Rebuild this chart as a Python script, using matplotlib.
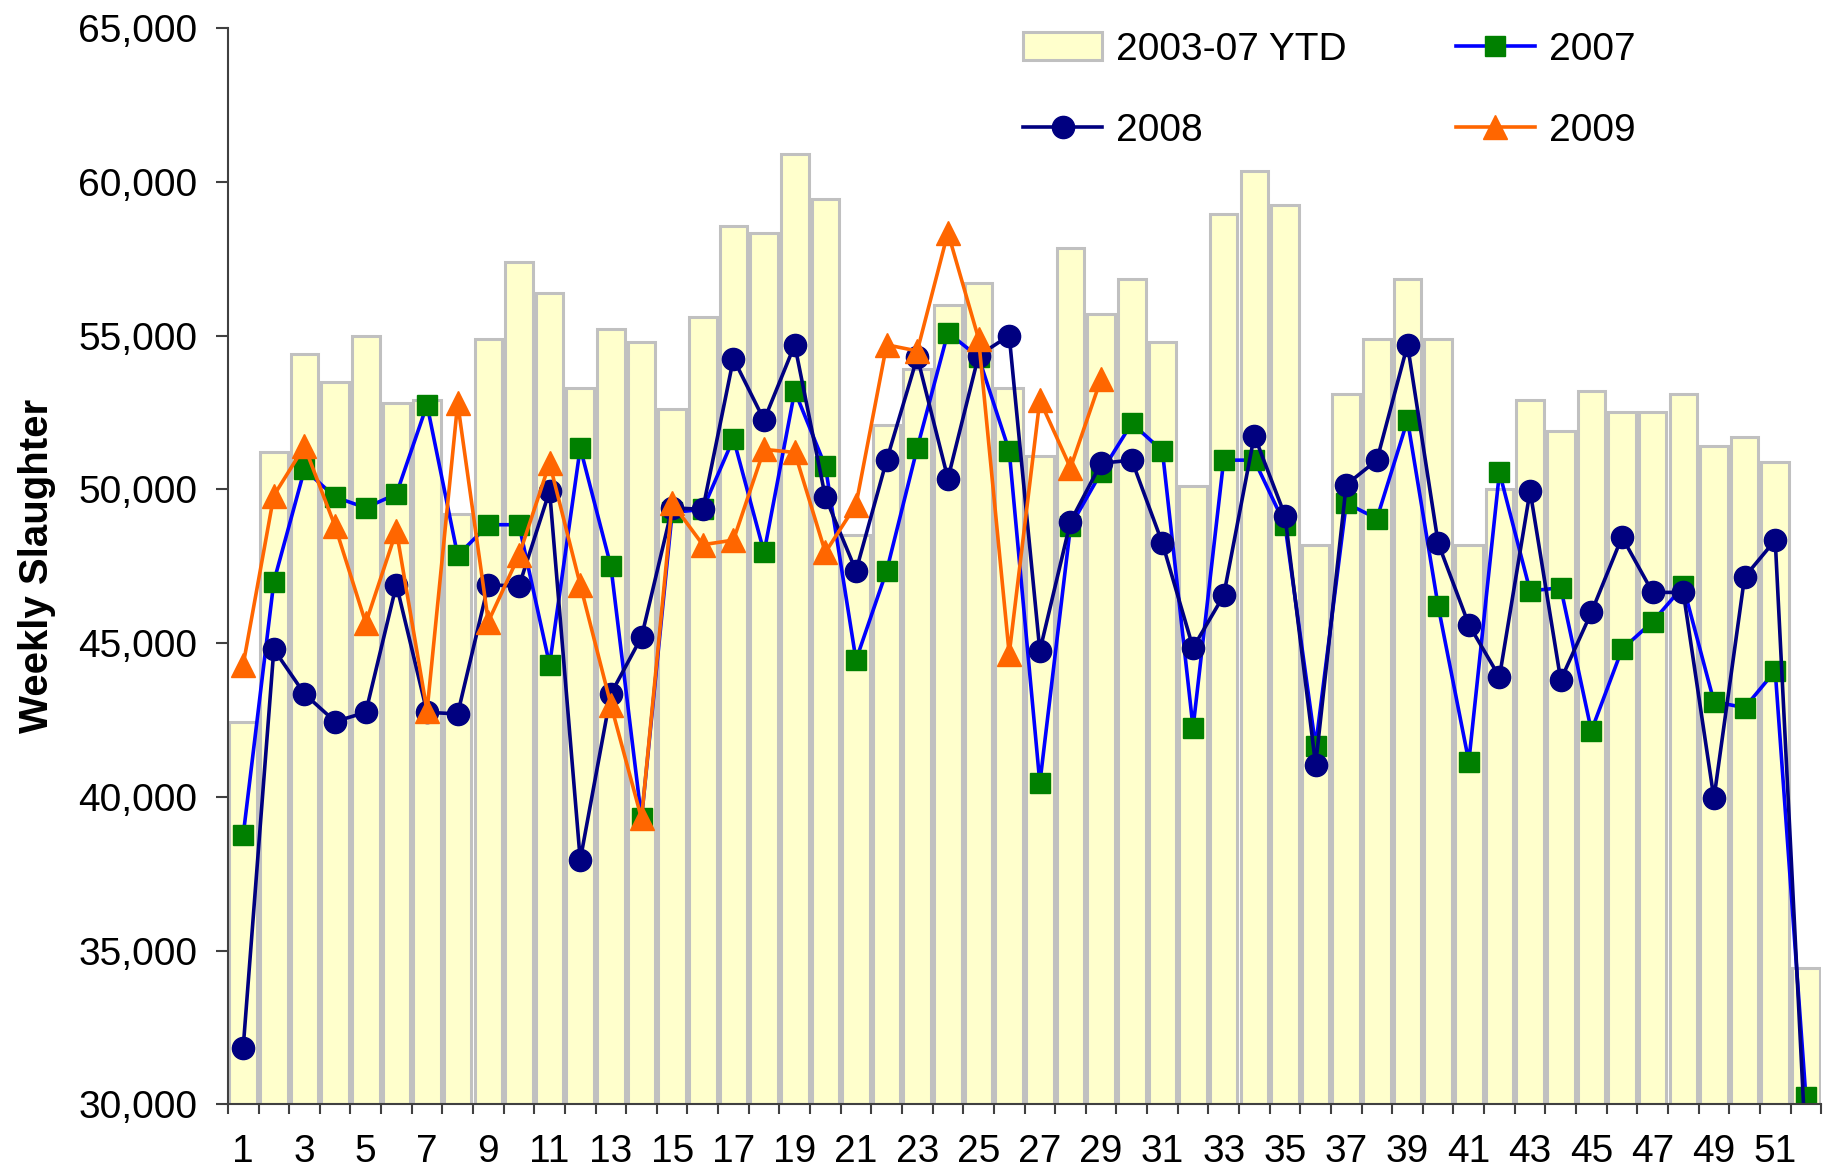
import matplotlib.pyplot as plt
from matplotlib.ticker import FuncFormatter, MultipleLocator

plt.rcParams['font.family'] = ['Liberation Sans', 'DejaVu Sans']

weeks = list(range(1, 53))

# 2003-07 average (bars)
ytd_0307 = [42450, 51200, 54400, 53500, 55000, 52800, 52900, 49200, 54900, 57400,
            56400, 53300, 55200, 54800, 52600, 55600, 58550, 58350, 60900, 59450,
            48500, 52100, 53900, 56000, 56700, 53300, 51100, 57850, 55700, 56850,
            54800, 50100, 58950, 60350, 59250, 48200, 53100, 54900, 56850, 54900,
            48200, 50000, 52900, 51900, 53200, 52500, 52500, 53100, 51400, 51700,
            50900, 34450]

y2007 = [38750, 47000, 50650, 49750, 49400, 49850, 52750, 47850, 48850, 48850,
         44300, 51350, 47500, 39300, 49250, 49350, 51650, 47950, 53200, 50750,
         44450, 47350, 51350, 55100, 54300, 51250, 40450, 48800, 50550, 52150,
         51250, 42250, 50950, 50950, 48850, 41650, 49550, 49050, 52250, 46200,
         41150, 50550, 46700, 46800, 42150, 44800, 45700, 46850, 43100, 42900,
         44100, 30250]

y2008 = [31850, 44800, 43350, 42450, 42750, 46900, 42750, 42700, 46900, 46850,
         49950, 37950, 43350, 45200, 49400, 49350, 54250, 52250, 54700, 49750,
         47350, 50950, 54300, 50350, 54350, 55000, 44750, 48950, 50850, 50950,
         48250, 44850, 46550, 51750, 49150, 41050, 50150, 50950, 54700, 48250,
         45600, 43900, 49950, 43800, 46000, 48450, 46650, 46650, 39950, 47150,
         48350, 28500]

y2009 = [44300, 49800, 51400, 48800, 45650, 48650, 42800, 52800, 45700, 47850,
         50850, 46900, 43000, 39300, 49550, 48200, 48350, 51300, 51200, 47950,
         49500, 54700, 54500, 58350, 54900, 44650, 52900, 50700, 53600]

fig = plt.figure(figsize=(18.23, 11.68), dpi=100)
ax = fig.add_axes([0.125, 0.0544, 0.874, 0.9216])

bars = ax.bar(weeks, ytd_0307, width=0.9, color='#FFFFCC', edgecolor='#C0C0C0',
              linewidth=2.2, label='2003-07 YTD')
l07, = ax.plot(weeks, y2007, color='#0000FF', lw=2.6, marker='s', ms=14,
               mfc='#008000', mec='#008000', label='2007')
l08, = ax.plot(weeks, y2008, color='#000080', lw=2.6, marker='o', ms=16,
               label='2008')
l09, = ax.plot(weeks[:len(y2009)], y2009, color='#FF6600', lw=2.6, marker='^',
               ms=17, label='2009')

ax.set_xlim(0.5, 52.5)
ax.set_ylim(30000, 65000)

ax.yaxis.set_major_locator(MultipleLocator(5000))
ax.yaxis.set_major_formatter(FuncFormatter(lambda v, p: f'{int(v):,}'))
ax.tick_params(axis='y', labelsize=28, length=9, width=1.5, color='#404040',
               direction='out', pad=13)

ax.set_xticks(weeks[::2])
ax.set_xticks([w - 0.5 for w in weeks] + [52.5], minor=True)
ax.tick_params(axis='x', which='major', labelsize=28, length=0, pad=21)
ax.tick_params(axis='x', which='minor', length=7, width=1.5, color='#404040',
               direction='out')

for s in ['top', 'right']:
    ax.spines[s].set_visible(False)
for s in ['left', 'bottom']:
    ax.spines[s].set_color('#404040')
    ax.spines[s].set_linewidth(1.5)

ax.set_ylabel('Weekly Slaughter', fontsize=29, fontweight='bold')
ax.yaxis.set_label_coords(-0.108, 0.5)

ax.legend([bars, l08, l07, l09], ['2003-07 YTD', '2008', '2007', '2009'],
          ncol=2, loc='upper left', bbox_to_anchor=(0.561, 0.973),
          bbox_transform=fig.transFigure, frameon=False, fontsize=28,
          handlelength=2.05, handletextpad=0.35, columnspacing=2.8,
          labelspacing=1.17, borderpad=0, borderaxespad=0)

fig.savefig('out.png', dpi=100)
